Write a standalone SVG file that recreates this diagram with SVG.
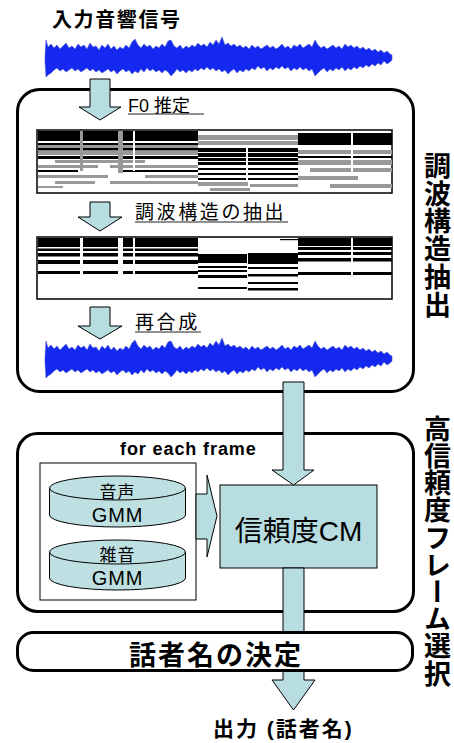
<svg xmlns="http://www.w3.org/2000/svg" width="454" height="743" viewBox="0 0 454 743">
<style>
.t{font-family:"Liberation Sans","Noto Sans CJK JP",sans-serif;fill:#000}
.b{font-weight:bold}
.arrow{fill:#b7dde0;stroke:#000;stroke-width:1}
.box{fill:#fff;stroke:#000;stroke-width:3}
.wave{fill:#1428f0;stroke:#4a5bd0;stroke-width:0.6}
.ul{stroke:#222;stroke-width:1.2}
.k{fill:#000}
.g{fill:#999}
.w{fill:#fff}
.frame{fill:#fff;stroke:#000;stroke-width:1.5}
.cyl{fill:#bfe0e3;stroke:#000;stroke-width:1}
.vt{writing-mode:vertical-rl;text-orientation:upright}
</style>
<defs>
<polygon id="wave" class="wave" points="45,56 46,40 48,47 51,44 54,48 57,45 60,49 63,46 66,43 69,48 72,46 75,49 78,44 81,47 84,45 87,49 90,43 93,47 96,46 99,50 102,45 105,48 108,44 111,49 114,46 117,50 120,47 123,49 126,45 129,48 132,42 135,39 138,45 141,48 144,44 147,47 150,45 153,49 156,46 159,48 162,44 165,47 168,41 171,40 174,46 177,48 180,45 183,49 186,46 189,48 192,45 195,47 198,43 201,46 204,44 207,47 210,42 213,45 216,40 219,44 222,37 225,45 228,43 231,46 234,44 237,47 240,45 243,48 246,46 249,49 252,45 255,48 258,46 261,49 264,47 267,45 270,48 273,46 276,49 279,47 282,44 285,48 288,46 291,49 294,45 297,47 300,44 303,48 306,46 309,44 312,47 315,40 318,45 321,48 324,46 327,49 330,47 333,45 336,48 339,46 342,49 345,44 348,47 351,45 354,48 357,46 360,49 363,47 366,50 369,48 372,51 375,49 378,52 381,50 384,53 387,51 390,54 392,55 392,60 390,62 387,64 384,61 381,65 378,63 375,66 372,64 369,67 366,65 363,68 360,66 357,69 354,67 351,70 348,68 345,71 342,67 339,70 336,68 333,71 330,69 327,72 324,68 321,70 318,73 315,76 312,69 309,71 306,68 303,70 300,67 297,70 294,68 291,71 288,67 285,69 282,66 279,69 276,67 273,70 270,68 267,71 264,67 261,69 258,66 255,70 252,68 249,71 246,69 243,72 240,70 237,73 234,69 231,71 228,74 225,70 222,72 219,69 216,71 213,68 210,70 207,67 204,70 201,68 198,71 195,69 192,72 189,70 186,73 183,70 180,72 177,69 174,73 171,76 168,72 165,70 162,73 159,70 156,72 153,69 150,71 147,68 144,72 141,69 138,73 135,71 132,74 129,70 126,72 123,69 120,71 117,74 114,70 111,72 108,69 105,71 102,73 99,70 96,72 93,69 90,71 87,68 84,70 81,72 78,69 75,71 72,68 69,70 66,72 63,69 60,71 57,68 54,70 51,73 48,75 46,77 45,62"/>
</defs>

<g id="input-label">
<text class="t b" x="52" y="27" font-size="20" letter-spacing="1.6">入力音響信号</text>
</g>
<g id="input-wave"><use href="#wave"/></g>

<g id="harmonic-box">
<rect class="box" x="17.5" y="89.5" width="396" height="302" rx="22"/>
</g>

<g id="spec1">
<rect class="frame" x="37" y="130" width="355" height="63"/>
<!-- high pitch segments -->
<rect class="k" x="38" y="131" width="160" height="10"/>
<rect class="k" x="38" y="143" width="160" height="2"/>
<rect class="g" x="38" y="145" width="160" height="3"/>
<rect class="k" x="38" y="148" width="160" height="2.5"/>
<rect class="g" x="38" y="151" width="160" height="4"/>
<rect class="k" x="38" y="156" width="160" height="3"/>
<rect class="g" x="55" y="160" width="90" height="3"/>
<rect class="g" x="38" y="165" width="60" height="3"/>
<rect class="g" x="110" y="165" width="88" height="3"/>
<rect class="k" x="38" y="170" width="40" height="2"/>
<rect class="k" x="120" y="170" width="78" height="2"/>
<rect class="g" x="38" y="175" width="70" height="3"/>
<rect class="g" x="145" y="175" width="53" height="3"/>
<rect class="g" x="55" y="181" width="40" height="3"/>
<rect class="g" x="110" y="181" width="88" height="3"/>
<rect class="g" x="38" y="186" width="25" height="2"/>
<rect class="g" x="80" y="131" width="3" height="40"/>
<rect class="g" x="118" y="131" width="5" height="42"/>
<rect class="w" x="133" y="131" width="2" height="40"/>
<!-- low pitch segments -->
<rect class="g" x="198" y="135" width="100" height="10"/>
<rect class="w" x="198" y="140" width="100" height="1"/>
<rect class="k" x="198" y="148" width="100" height="17"/>
<rect class="w" x="198" y="152" width="100" height="1"/>
<rect class="w" x="198" y="157" width="100" height="1"/>
<rect class="w" x="198" y="161" width="100" height="1"/>
<rect class="k" x="198" y="168" width="100" height="2"/>
<rect class="k" x="198" y="173" width="100" height="2"/>
<rect class="k" x="198" y="178" width="100" height="2"/>
<rect class="g" x="198" y="182" width="50" height="4"/>
<rect class="g" x="250" y="184" width="48" height="3"/>
<rect class="g" x="210" y="188" width="40" height="3"/>
<rect class="w" x="246" y="146" width="2" height="35"/>
<!-- right segments -->
<rect class="k" x="298" y="133" width="94" height="12"/>
<rect class="g" x="298" y="150" width="94" height="4"/>
<rect class="k" x="298" y="156" width="94" height="2"/>
<rect class="g" x="298" y="160" width="94" height="5"/>
<rect class="g" x="310" y="168" width="82" height="4"/>
<rect class="g" x="298" y="176" width="60" height="4"/>
<rect class="g" x="330" y="184" width="62" height="4"/>
<rect class="w" x="351" y="131" width="2" height="45"/>
</g>

<g id="spec2">
<rect class="frame" x="37" y="237" width="355" height="62"/>
<rect class="k" x="38" y="238" width="160" height="9"/>
<rect class="k" x="38" y="248.5" width="160" height="2.5"/>
<rect class="k" x="38" y="253" width="160" height="3.5"/>
<rect class="k" x="38" y="260" width="160" height="4"/>
<rect class="k" x="38" y="271" width="160" height="3"/>
<rect class="w" x="80" y="238" width="3" height="40"/>
<rect class="w" x="118" y="238" width="5" height="40"/>
<rect class="w" x="133" y="238" width="2" height="40"/>
<rect class="k" x="198" y="254" width="49" height="9"/>
<rect class="k" x="198" y="266" width="49" height="2"/>
<rect class="k" x="198" y="270" width="49" height="2"/>
<rect class="k" x="198" y="275" width="49" height="3"/>
<rect class="k" x="198" y="287" width="49" height="2"/>
<rect class="k" x="248" y="253" width="50" height="11"/>
<rect class="k" x="248" y="267" width="50" height="2"/>
<rect class="k" x="248" y="274" width="50" height="2.5"/>
<rect class="k" x="248" y="282" width="50" height="2"/>
<rect class="k" x="248" y="288" width="50" height="2.5"/>
<rect class="k" x="280" y="239" width="18" height="1.2"/>
<rect class="k" x="298" y="238" width="94" height="12"/>
<rect class="w" x="298" y="246" width="94" height="1"/>
<rect class="k" x="298" y="252" width="94" height="3"/>
<rect class="k" x="298" y="258" width="94" height="3.5"/>
<rect class="k" x="298" y="272" width="94" height="3"/>
<rect class="w" x="351" y="238" width="2" height="40"/>
</g>

<g id="resynth-wave"><use href="#wave" transform="translate(0,301)"/></g>

<g id="texts-steps">
<text class="t" x="128" y="112" font-size="18">F0 推定</text>
<line class="ul" x1="128" y1="114" x2="204" y2="114"/>
<text class="t" x="135" y="219" font-size="19" letter-spacing="2.6">調波構造の抽出</text>
<line class="ul" x1="135" y1="222" x2="288" y2="222"/>
<text class="t" x="135" y="329" font-size="19" letter-spacing="2.6">再合成</text>
<line class="ul" x1="135" y1="332" x2="201" y2="332"/>
</g>

<g id="select-box">
<rect class="box" x="17.5" y="433.5" width="396" height="178" rx="20"/>
<text class="t b" x="120" y="455" font-size="18" letter-spacing="0.9">for each frame</text>
</g>

<g id="gmm-group">
<rect x="40" y="463" width="156" height="137" fill="#fff" stroke="#000" stroke-width="1"/>
</g>
<g id="speech-gmm">
<path class="cyl" d="M49.5,488 V515 A68,12 0 0 0 185.5,515 V488"/>
<ellipse class="cyl" cx="117.5" cy="488" rx="68" ry="12"/>
<text class="t" x="117.5" y="498" font-size="17" text-anchor="middle" letter-spacing="1">音声</text>
<text class="t" x="117.5" y="522" font-size="20" text-anchor="middle" letter-spacing="0.8">GMM</text>
</g>
<g id="noise-gmm">
<path class="cyl" d="M49.5,552 V578 A68,12 0 0 0 185.5,578 V552"/>
<ellipse class="cyl" cx="117.5" cy="552" rx="68" ry="12"/>
<text class="t" x="117.5" y="561" font-size="17" text-anchor="middle" letter-spacing="1">雑音</text>
<text class="t" x="117.5" y="585" font-size="20" text-anchor="middle" letter-spacing="0.8">GMM</text>
</g>

<g id="cm-box">
<rect x="220" y="485" width="157" height="83" fill="#b7dde0" stroke="#000" stroke-width="1"/>
<text class="t" x="298.5" y="541" font-size="28" text-anchor="middle">信頼度CM</text>
</g>

<g id="connectors">
<polygon class="arrow" points="90,79 110,79 110,107 121,107 100,120 79,107 90,107"/>
<polygon class="arrow" points="90,202 110,202 110,217 122,217 100,231 78,217 90,217"/>
<polygon class="arrow" points="90,307 110,307 110,326 122,326 100,339 78,326 90,326"/>
<polygon class="arrow" points="283,382 304,382 304,470 314,470 293.5,485 272,470 283,470"/>
<polygon class="arrow" points="283,568 304,568 304,680 315,680 293.5,710 272,680 283,680"/>
<polygon class="arrow" points="196,494 207,494 207,475 217,516 207,557 207,539 196,539"/>
</g>

<g id="decision-box">
<rect class="box" x="17.5" y="632.5" width="395" height="38" rx="16"/>
<text class="t b" x="216" y="665" font-size="27" text-anchor="middle" letter-spacing="2">話者名の決定</text>
</g>

<g id="output-label">
<text class="t b" x="213" y="736" font-size="21" letter-spacing="2">出力 (話者名)</text>
</g>

<g id="side-labels">
<text class="t b vt" x="435" y="152" font-size="27" letter-spacing="0.8">調波構造抽出</text>
<text class="t b vt" x="435" y="415" font-size="27" letter-spacing="0.2">高信頼度フレーム選択</text>
</g>
</svg>
